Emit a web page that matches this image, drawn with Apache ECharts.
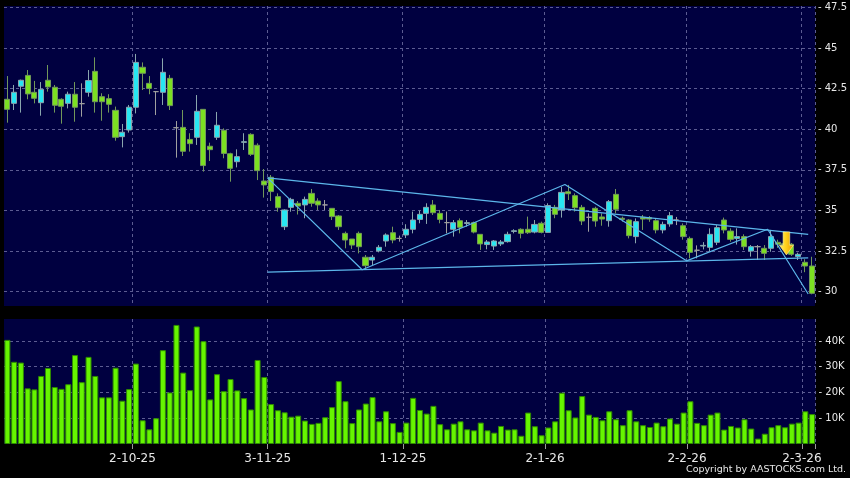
<!DOCTYPE html>
<html><head><meta charset="utf-8">
<script src="https://cdn.jsdelivr.net/npm/echarts@6/dist/echarts.min.js"></script>
<style>html,body{margin:0;padding:0;background:#000;}#c{width:850px;height:478px;}</style>
</head><body><div id="c"></div>
<script>
const categories = ['4-9-25','5-9-25','8-9-25','9-9-25','10-9-25','11-9-25','12-9-25','15-9-25','16-9-25','17-9-25','18-9-25','19-9-25','22-9-25','23-9-25','24-9-25','25-9-25','26-9-25','29-9-25','30-9-25',
'2-10-25','3-10-25','6-10-25','8-10-25','9-10-25','10-10-25','13-10-25','14-10-25','15-10-25','16-10-25','17-10-25','20-10-25','21-10-25','22-10-25','23-10-25','24-10-25','27-10-25','28-10-25','30-10-25','31-10-25',
'3-11-25','4-11-25','5-11-25','6-11-25','7-11-25','10-11-25','11-11-25','12-11-25','13-11-25','14-11-25','17-11-25','18-11-25','19-11-25','20-11-25','21-11-25','24-11-25','25-11-25','26-11-25','27-11-25','28-11-25',
'1-12-25','2-12-25','3-12-25','4-12-25','5-12-25','8-12-25','9-12-25','10-12-25','11-12-25','12-12-25','15-12-25','16-12-25','17-12-25','18-12-25','19-12-25','22-12-25','23-12-25','24-12-25','29-12-25','30-12-25','31-12-25',
'2-1-26','5-1-26','6-1-26','7-1-26','8-1-26','9-1-26','12-1-26','13-1-26','14-1-26','15-1-26','16-1-26','19-1-26','20-1-26','21-1-26','22-1-26','23-1-26','26-1-26','27-1-26','28-1-26','29-1-26','30-1-26',
'2-2-26','3-2-26','4-2-26','5-2-26','6-2-26','9-2-26','10-2-26','11-2-26','12-2-26','13-2-26','16-2-26','20-2-26','23-2-26','24-2-26','25-2-26','26-2-26','27-2-26',
'2-3-26','3-3-26'];

const tickLabels = ['2-10-25','3-11-25','1-12-25','2-1-26','2-2-26','2-3-26'];
const priceTicks = [30, 32.5, 35, 37.5, 40, 42.5, 45, 47.5];
const volTicks = [10, 20, 30, 40];

const openP = [41.84,41.59,42.64,43.31,42.27,41.63,43.01,42.58,41.84,41.59,
42.15,41.57,42.27,43.56,42.00,41.88,41.16,39.54,39.95,41.35,
43.81,42.82,42.31,42.27,43.13,40.09,40.11,39.37,39.50,41.22,
38.95,39.50,39.93,38.49,38.00,39.19,39.68,39.01,36.81,37.04,
35.85,34.00,35.19,35.44,35.34,36.05,35.58,35.34,35.13,34.66,
33.59,33.24,33.59,32.12,31.95,32.51,33.12,33.63,33.28,33.49,
33.84,34.45,34.82,35.34,34.82,34.25,33.84,34.37,34.20,34.25,
33.53,32.90,32.81,32.94,33.08,33.71,33.84,33.84,33.67,34.21,
33.65,35.19,35.03,36.15,35.91,35.19,34.58,35.13,34.60,34.37,
35.99,34.52,34.41,33.39,34.58,34.56,34.37,33.80,34.17,34.41,
34.06,33.28,32.55,32.81,32.73,33.04,34.41,33.73,33.28,33.39,
32.50,32.77,32.67,32.67,33.04,32.95,32.92,32.16,31.81,31.58];

const closeP = [41.22,42.27,43.01,42.17,41.90,42.45,42.60,41.47,41.41,42.15,
41.35,41.57,42.99,41.69,41.69,41.53,39.50,39.81,41.35,44.11,
43.44,42.51,42.31,43.50,41.45,40.09,38.64,39.11,41.10,37.76,
38.74,40.24,38.51,37.59,38.31,39.23,38.45,37.45,36.57,36.16,
35.17,35.03,35.68,35.27,35.68,35.44,35.34,35.34,34.62,34.00,
33.18,32.87,32.77,31.60,32.12,32.73,33.49,33.18,33.28,33.84,
34.41,34.76,35.19,34.86,34.45,34.25,34.25,33.96,34.25,33.67,
32.94,33.06,33.12,33.06,33.53,33.75,33.59,33.63,34.14,33.65,
35.30,34.76,36.11,36.03,35.17,34.35,34.58,34.35,34.47,35.54,
35.07,34.45,33.45,34.31,34.47,34.47,33.80,34.14,34.68,34.41,
33.39,32.42,32.55,32.85,33.53,33.94,33.80,33.22,33.39,32.77,
32.77,32.77,32.36,33.39,32.92,32.90,32.30,32.30,31.58,29.90];

const lowP = [40.40,41.18,41.02,41.84,41.59,40.83,42.31,41.02,40.34,41.28,
40.46,40.77,42.00,41.02,40.52,41.02,39.29,38.88,39.79,40.97,
42.41,42.15,40.87,41.49,41.18,38.25,38.35,38.62,39.03,37.39,
38.04,39.34,38.21,36.77,37.65,38.72,38.35,36.87,35.79,35.58,
34.92,33.80,34.92,34.75,34.52,35.23,35.03,35.03,34.41,33.80,
32.67,32.63,32.36,31.35,31.64,32.42,32.77,32.98,33.08,33.30,
33.59,34.21,34.17,34.72,34.21,33.59,33.39,33.59,34.00,33.59,
32.57,32.61,32.57,32.81,33.02,33.59,33.28,33.55,33.59,33.59,
33.65,34.52,34.56,35.64,34.93,34.10,33.69,34.00,34.06,34.00,
34.82,34.31,33.28,32.98,33.80,34.30,33.59,33.59,34.00,34.10,
33.20,32.05,32.05,32.60,32.46,32.87,33.59,33.08,32.90,32.57,
32.16,31.95,31.95,32.46,32.70,32.70,32.20,31.95,31.20,29.84];

const highP = [43.27,42.72,43.05,43.64,42.97,42.90,43.95,42.72,41.90,42.31,
42.90,42.82,43.64,44.42,42.21,42.15,41.39,40.32,41.49,44.63,
44.11,43.27,42.35,44.36,43.34,40.50,41.18,39.75,42.10,41.22,
39.17,41.06,40.05,38.55,38.76,39.75,39.75,39.13,37.55,37.18,
36.05,35.07,35.78,35.58,35.85,36.32,35.75,35.64,35.13,34.72,
33.70,33.24,33.70,32.26,32.26,32.87,33.59,34.00,33.45,34.15,
34.93,34.99,35.44,35.64,35.03,34.93,34.41,34.51,34.41,34.31,
33.53,33.18,33.18,33.18,33.69,33.84,33.90,34.62,34.41,34.31,
35.44,35.34,36.46,36.57,36.05,35.34,34.82,35.23,34.82,35.64,
36.32,34.62,34.47,34.51,34.72,34.65,34.51,34.31,34.90,34.60,
34.20,33.39,32.85,33.05,33.90,34.10,34.56,33.90,33.90,33.53,
32.87,32.87,32.87,33.80,33.20,33.10,33.00,32.40,32.00,32.15];

// volume in thousands
const volumeK = [40.4,31.9,31.6,21.6,21.2,26.4,29.5,22.1,21.4,23.2,
34.5,24.0,33.8,26.4,18.1,18.1,29.6,16.8,21.3,31.2,
9.2,5.7,10.0,36.4,20.0,46.2,27.7,20.9,45.6,39.9,
17.3,27.1,20.5,25.2,20.8,17.8,13.4,32.6,26.0,15.5,
13.1,12.3,10.6,11.0,9.1,7.8,8.2,10.4,14.3,24.4,
16.6,8.1,13.4,15.7,18.2,8.8,12.7,8.1,4.7,8.3,
17.9,13.2,11.8,14.8,7.7,5.7,7.9,8.8,5.7,5.3,
8.3,5.3,4.4,7.0,5.6,5.7,3.2,12.2,6.9,3.4,
6.4,8.8,19.9,13.1,10.3,18.6,11.4,10.5,9.2,12.7,
9.6,7.3,13.1,8.8,7.3,6.6,8.3,6.9,9.9,7.9,
12.2,16.6,8.2,7.3,11.4,12.2,5.6,7.0,6.4,9.6,
6.0,2.1,4.0,6.5,7.3,6.5,7.9,8.3,12.7,11.6];

// drawn trend lines: [position in candle units, price]
const upperLine = [[38.5, 37.0], [118.5, 33.53]];
const lowerLine = [[38.5, 31.21], [118.5, 32.08]];
const zigzagLine = [[38.5, 37.0], [52.5, 31.35], [82.5, 36.6], [100.5, 31.9], [112.5, 33.84], [118.5, 29.86]];
const arrowPoint = [[115.28, 32.97]];

const candleData = openP.map((o, i) => [o, closeP[i], lowP[i], highP[i]]);
const tickSet = new Set(tickLabels);
const isTick = (idx) => tickSet.has(categories[idx]);

const gridLine = { show: true, lineStyle: { color: '#5c5c92', type: [3, 3], width: 1 } };
const vGridLine = { show: true, interval: (i) => isTick(i), lineStyle: { color: '#5c5c92', type: [3, 3], width: 1 } };
const FONT = 'DejaVu Sans';
const trendStyle = { color: '#5cb6ea', width: 1.2 };

const chart = echarts.init(document.getElementById('c'), null, { renderer: 'canvas', width: 850, height: 478 });
chart.setOption({
  backgroundColor: '#000000',
  animation: false,
  grid: [
    { left: 4, top: 6, width: 811.5, height: 300, show: true, backgroundColor: '#000040', borderWidth: 0 },
    { left: 4, top: 319, width: 811.5, height: 125, show: true, backgroundColor: '#000040', borderWidth: 0 }
  ],
  xAxis: [
    { type: 'category', gridIndex: 0, data: categories, boundaryGap: true,
      axisLine: { show: false }, axisTick: { show: false }, axisLabel: { show: false }, splitLine: vGridLine },
    { type: 'category', gridIndex: 1, data: categories, boundaryGap: true,
      axisLine: { show: false },
      axisTick: { show: true, interval: (i) => isTick(i), length: 5, lineStyle: { color: '#9a9a9a' } },
      axisLabel: { show: true, interval: (i) => isTick(i), color: '#e8e8e8', fontSize: 12, fontFamily: FONT, margin: 9, padding: [0, 6.8, 0, 0] },
      splitLine: vGridLine },
    { type: 'value', gridIndex: 0, min: -0.5, max: 119.5, show: false }
  ],
  yAxis: [
    { type: 'value', gridIndex: 0, position: 'right', min: 29.12, max: 47.58,
      axisLine: { show: false },
      axisTick: { show: false, customValues: priceTicks },
      axisLabel: { customValues: priceTicks, formatter: (v) => '- ' + v, color: '#e8e8e8', fontSize: 10, fontFamily: FONT, margin: 3 },
      splitLine: gridLine },
    { type: 'value', gridIndex: 1, position: 'right', min: 0, max: 48.5,
      axisLine: { show: false },
      axisTick: { show: false, customValues: volTicks },
      axisLabel: { customValues: volTicks, formatter: (v) => '- ' + v + 'K', color: '#e8e8e8', fontSize: 10, fontFamily: FONT, margin: 3 },
      splitLine: gridLine }
  ],
  series: [
    { type: 'candlestick', xAxisIndex: 0, yAxisIndex: 0, data: candleData, barWidth: 5.6,
      itemStyle: { color: '#28e6f2', color0: '#7ce022', borderColor: '#8aa6ae', borderColor0: '#72985a', borderColorDoji: '#a0a0a0', borderWidth: 1 } },
    { type: 'bar', xAxisIndex: 1, yAxisIndex: 1, data: volumeK, barWidth: 6,
      itemStyle: { color: '#66f500', borderColor: '#2f8a00', borderWidth: 1 } },
    { type: 'line', xAxisIndex: 2, yAxisIndex: 0, data: upperLine, symbol: 'none', lineStyle: trendStyle, z: 5 },
    { type: 'line', xAxisIndex: 2, yAxisIndex: 0, data: lowerLine, symbol: 'none', lineStyle: trendStyle, z: 5 },
    { type: 'line', xAxisIndex: 2, yAxisIndex: 0, data: zigzagLine, symbol: 'none', lineStyle: trendStyle, z: 5 },
    { type: 'scatter', xAxisIndex: 2, yAxisIndex: 0, data: arrowPoint, z: 10,
      symbol: 'path://M3.7,0 L10.3,0 L10.3,13.3 L14,13.3 L7,23 L0,13.3 L3.7,13.3 Z', symbolSize: [14, 23],
      itemStyle: { opacity: 1, color: new echarts.graphic.LinearGradient(0, 0, 1, 0, [
        { offset: 0, color: '#fff36a' }, { offset: 0.45, color: '#ffd21c' }, { offset: 1, color: '#e89a00' }]),
        borderColor: '#fff0a0', borderWidth: 0.6 } }
  ],
  graphic: [
    { type: 'text', right: 4, top: 465, style: { text: 'Copyright by AASTOCKS.com Ltd.', fill: '#e8e8e8', font: '9.5px "DejaVu Sans"' } }
  ]
});
</script>
</body></html>
